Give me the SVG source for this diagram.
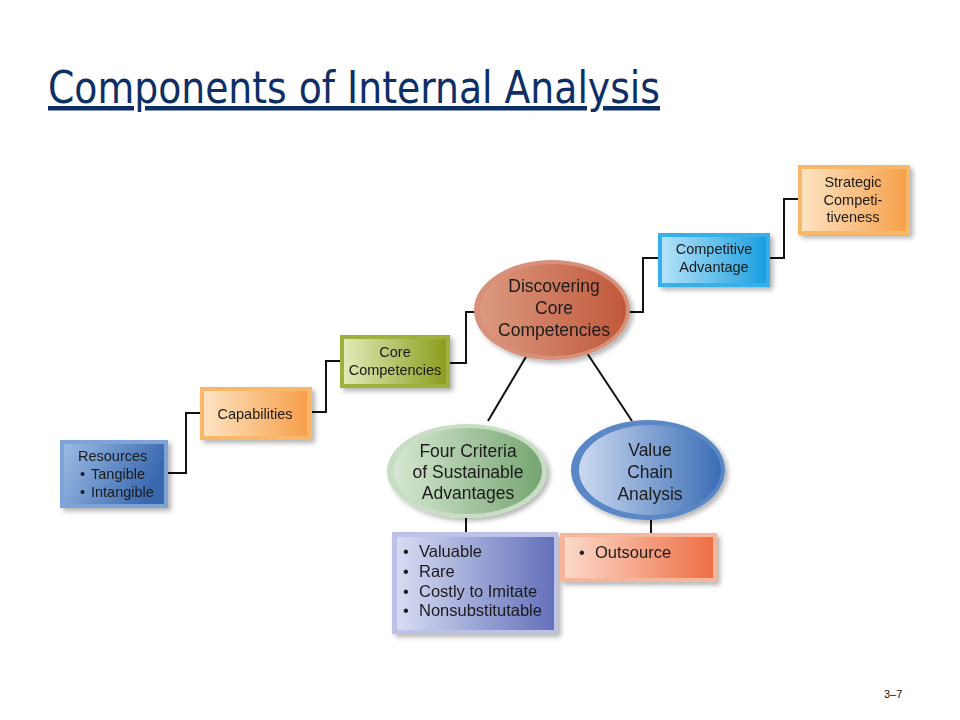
<svg xmlns="http://www.w3.org/2000/svg" width="960" height="720" viewBox="0 0 960 720">
<defs>
  <filter id="sh" x="-10%" y="-10%" width="130%" height="140%">
    <feGaussianBlur in="SourceAlpha" stdDeviation="2.5"/>
    <feOffset dx="3" dy="3" result="b"/>
    <feComponentTransfer><feFuncA type="linear" slope="0.3"/></feComponentTransfer>
    <feMerge><feMergeNode/><feMergeNode in="SourceGraphic"/></feMerge>
  </filter>
  <linearGradient id="gBlue" x1="0" y1="0" x2="1" y2="0.3"><stop offset="0" stop-color="#9bbbe4"/><stop offset="1" stop-color="#3a69b0"/></linearGradient>
  <linearGradient id="gOrange" x1="0" y1="0" x2="1" y2="0"><stop offset="0" stop-color="#fde3c2"/><stop offset="1" stop-color="#f6a04a"/></linearGradient>
  <linearGradient id="gGreen" x1="0" y1="0" x2="1" y2="0"><stop offset="0" stop-color="#e2e9b8"/><stop offset="1" stop-color="#8c9d1e"/></linearGradient>
  <linearGradient id="gCyan" x1="0" y1="0" x2="1" y2="0"><stop offset="0" stop-color="#b4e2f7"/><stop offset="1" stop-color="#1a9fe0"/></linearGradient>
  <linearGradient id="gRust" x1="0" y1="0" x2="1" y2="0"><stop offset="0" stop-color="#dc9a80"/><stop offset="1" stop-color="#c0583a"/></linearGradient>
  <linearGradient id="gSage" x1="0" y1="0" x2="1" y2="0"><stop offset="0" stop-color="#d6e7d2"/><stop offset="1" stop-color="#76a572"/></linearGradient>
  <linearGradient id="gSky" x1="0" y1="0" x2="1" y2="0"><stop offset="0" stop-color="#cad9ef"/><stop offset="1" stop-color="#3b6db5"/></linearGradient>
  <linearGradient id="gViolet" x1="0" y1="0" x2="1" y2="0"><stop offset="0" stop-color="#d8dcf2"/><stop offset="1" stop-color="#6370bb"/></linearGradient>
  <linearGradient id="gSalmon" x1="0" y1="0" x2="1" y2="0"><stop offset="0" stop-color="#fcd9ca"/><stop offset="1" stop-color="#ee6f45"/></linearGradient>
  <style>
    .t{font-family:"Liberation Sans",Arial,sans-serif;font-size:14.5px;fill:#1a1a1a}
    .c{text-anchor:middle}
    .e{font-size:17.5px}
    .b{font-size:16.5px}
    .ln{fill:none;stroke:#111;stroke-width:2}
  </style>
</defs>
<rect width="960" height="720" fill="#ffffff"/>
<text x="48" y="103" font-family="DejaVu Sans,Verdana,sans-serif" font-size="45" fill="#0d2f66" text-decoration="underline" textLength="612" lengthAdjust="spacingAndGlyphs">Components of Internal Analysis</text>

<g id="connectors">
  <polyline class="ln" points="168,473 186,473 186,413 200,413"/>
  <polyline class="ln" points="312,412 326,412 326,361 340,361"/>
  <polyline class="ln" points="450,363 466,363 466,312 487,312"/>
  <polyline class="ln" points="623,312 643,312 643,258 658,258"/>
  <polyline class="ln" points="770,258 784,258 784,199 798,199"/>
  <line class="ln" x1="530" y1="350" x2="488" y2="421"/>
  <line class="ln" x1="585" y1="350" x2="632" y2="421"/>
  <line class="ln" x1="466" y1="516" x2="466" y2="533"/>
  <line class="ln" x1="651" y1="519" x2="651" y2="534"/>
</g>

<g id="resources" filter="url(#sh)">
  <rect x="60" y="440" width="108" height="68" fill="#7fa3d6"/>
  <rect x="64" y="444" width="100" height="60" fill="url(#gBlue)"/>
  <text class="t" x="78" y="461">Resources</text>
  <text class="t" y="479"><tspan x="80">•</tspan><tspan x="91">Tangible</tspan></text>
  <text class="t" y="497"><tspan x="80">•</tspan><tspan x="91">Intangible</tspan></text>
</g>

<g id="capabilities" filter="url(#sh)">
  <rect x="200" y="387" width="112" height="53" fill="#f9b76a"/>
  <rect x="204" y="391" width="103" height="45" fill="url(#gOrange)"/>
  <text class="t c" x="255" y="419">Capabilities</text>
</g>

<g id="core" filter="url(#sh)">
  <rect x="340" y="335" width="110" height="53" fill="#9fb03c"/>
  <rect x="344" y="339" width="102" height="45" fill="url(#gGreen)"/>
  <text class="t c" x="395" y="357">Core</text>
  <text class="t c" x="395" y="375">Competencies</text>
</g>

<g id="discovering" filter="url(#sh)">
  <ellipse cx="552" cy="310" rx="78" ry="50" fill="#d8907a"/>
  <ellipse cx="553" cy="310" rx="73" ry="46" fill="url(#gRust)"/>
  <text class="t c e" x="554" y="292">Discovering</text>
  <text class="t c e" x="554" y="314">Core</text>
  <text class="t c e" x="554" y="336">Competencies</text>
</g>

<g id="competitive" filter="url(#sh)">
  <rect x="658" y="233" width="112" height="54" fill="#34b0ea"/>
  <rect x="662" y="237" width="104" height="46" fill="url(#gCyan)"/>
  <text class="t c" x="714" y="254">Competitive</text>
  <text class="t c" x="714" y="272">Advantage</text>
</g>

<g id="strategic" filter="url(#sh)">
  <rect x="798" y="165" width="112" height="70" fill="#f9b76a"/>
  <rect x="802" y="169" width="104" height="62" fill="url(#gOrange)"/>
  <text class="t c" x="853" y="187">Strategic</text>
  <text class="t c" x="853" y="205">Competi-</text>
  <text class="t c" x="853" y="222">tiveness</text>
</g>

<g id="fourcriteria" filter="url(#sh)">
  <ellipse cx="467" cy="471" rx="80" ry="47" fill="#c8dec4"/>
  <ellipse cx="468" cy="471" rx="74" ry="43" fill="url(#gSage)"/>
  <text class="t c e" x="468" y="457">Four Criteria</text>
  <text class="t c e" x="468" y="478">of Sustainable</text>
  <text class="t c e" x="468" y="499">Advantages</text>
</g>

<g id="valuechain" filter="url(#sh)">
  <ellipse cx="648" cy="470" rx="77" ry="50" fill="#5a88c6"/>
  <ellipse cx="650" cy="470" rx="71" ry="45" fill="url(#gSky)"/>
  <text class="t c e" x="650" y="456">Value</text>
  <text class="t c e" x="650" y="478">Chain</text>
  <text class="t c e" x="650" y="500">Analysis</text>
</g>

<g id="criteria-list" filter="url(#sh)">
  <rect x="392" y="532" width="166" height="102" fill="#bcc2e6"/>
  <rect x="397" y="537" width="157" height="93" fill="url(#gViolet)"/>
  <text class="t b" y="557"><tspan x="403">•</tspan><tspan x="419">Valuable</tspan></text>
  <text class="t b" y="577"><tspan x="403">•</tspan><tspan x="419">Rare</tspan></text>
  <text class="t b" y="597"><tspan x="403">•</tspan><tspan x="419">Costly to Imitate</tspan></text>
  <text class="t b" y="616"><tspan x="403">•</tspan><tspan x="419">Nonsubstitutable</tspan></text>
</g>

<g id="outsource" filter="url(#sh)">
  <rect x="560" y="533" width="157" height="49" fill="#f6b69c"/>
  <rect x="565" y="537" width="148" height="41" fill="url(#gSalmon)"/>
  <text class="t b" y="558"><tspan x="579">•</tspan><tspan x="595">Outsource</tspan></text>
</g>

<text x="884" y="698" font-family="Liberation Sans,Arial,sans-serif" font-size="11" fill="#111">3–7</text>
</svg>
